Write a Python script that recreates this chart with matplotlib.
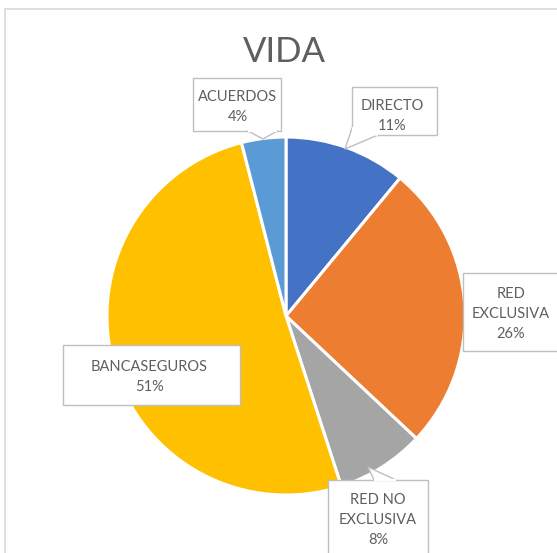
import matplotlib

matplotlib.use("Agg")
import matplotlib.pyplot as plt
from matplotlib.patches import Polygon, Rectangle

plt.rcParams["font.family"] = ["Lato", "DejaVu Sans"]

# data
channels = ["DIRECTO", "RED EXCLUSIVA", "RED NO EXCLUSIVA", "BANCASEGUROS", "ACUERDOS"]
shares = [11, 26, 8, 51, 4]
colors = ["#4472C4", "#ED7D31", "#A5A5A5", "#FFC000", "#5B9BD5"]
title = "VIDA"

W, H = 557, 553
TEXT = "#5F5F5F"
EDGE = "#BFBFBF"

# label layout in pixel coords (y down): text centre, box, optional notch
layout = {
    "ACUERDOS": dict(xy=(238, 107), box=(193, 78, 281, 131), notch=(248, 131, 277, 131, 263, 139)),
    "DIRECTO": dict(xy=(392, 116), box=(352, 87, 437, 135), notch=(352, 128, 378, 135, 345, 149)),
    "RED EXCLUSIVA": dict(xy=(511, 314), box=(463, 273, 559, 351), notch=None),
    "BANCASEGUROS": dict(xy=(149, 377), box=(63, 345, 240, 405), notch=None),
    "RED NO EXCLUSIVA": dict(xy=(378, 520), box=(328, 480, 428, 620), notch=(374, 480, 396, 480, 368, 467)),
}


def py(y):
    return H - y


def label_box(ax, box, notch):
    x0, y0, x1, y1 = box
    ax.add_patch(Rectangle((x0, py(y1)), x1 - x0, y1 - y0, facecolor="white",
                           edgecolor=EDGE, lw=1.0, zorder=5))
    if notch is None:
        return
    ax_, ay, bx, by, tx, ty = notch
    # white triangle with grey sides, base hidden
    ax.add_patch(Polygon([(ax_, py(ay)), (tx, py(ty)), (bx, py(by))], closed=True,
                         facecolor="white", edgecolor="none", zorder=6))
    ax.plot([ax_, tx, bx], [py(ay), py(ty), py(by)], color=EDGE, lw=1.0, zorder=7)
    ax.plot([ax_, bx], [py(ay), py(by)], color="white", lw=1.6, zorder=7,
            solid_capstyle="butt")


fig = plt.figure(figsize=(W / 100, H / 100), dpi=100)
ax = fig.add_axes([0, 0, 1, 1])

# chart frame
ax.add_patch(Rectangle((5, py(700)), 700, 700 - 9, facecolor="white", edgecolor="#D9D9D9", lw=1.2, zorder=0))

ax.pie(shares, colors=colors, startangle=90, counterclock=False,
       center=(286, py(316)), radius=179,
       wedgeprops=dict(edgecolor="white", linewidth=2.2), frame=True)
ax.set_xlim(0, W)
ax.set_ylim(0, H)
ax.set_aspect("equal")
ax.axis("off")

ax.text(284, py(52), title, ha="center", va="center", fontsize=25, color=TEXT)

for name, pct in zip(channels, shares):
    lay = layout[name]
    label_box(ax, lay["box"], lay["notch"])
    if name == "RED NO EXCLUSIVA":
        txt = "RED NO\nEXCLUSIVA"
    else:
        txt = name.replace(" EXCLUSIVA", "\nEXCLUSIVA")
    ax.text(lay["xy"][0], py(lay["xy"][1]), f"{txt}\n{pct}%", ha="center", va="center",
            fontsize=10.5, color=TEXT, linespacing=1.5, zorder=8)

fig.savefig("out.png", dpi=100)
